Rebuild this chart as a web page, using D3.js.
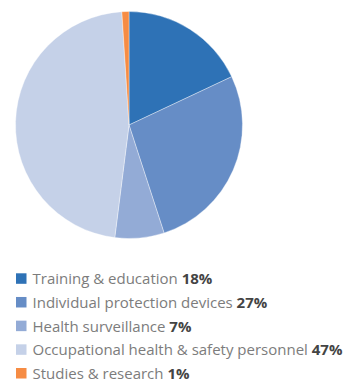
<!DOCTYPE html>
<html>
<head>
<meta charset="utf-8">
<script src="https://cdn.jsdelivr.net/npm/d3@7"></script>
<style>
  html, body { margin: 0; padding: 0; background: #fff; }
  svg { display: block; }
</style>
</head>
<body>
<svg id="chart" width="352" height="380"></svg>
<script>
// Safety spending breakdown
const categories = [
  "Training & education",
  "Individual protection devices",
  "Health surveillance",
  "Occupational health & safety personnel",
  "Studies & research"
];
const shares = [18, 27, 7, 47, 1];
const colors = ["#2e72b6", "#668dc6", "#93abd6", "#c5d1e8", "#f68c44"];

const svg = d3.select("#chart");
const cx = 129, cy = 125, radius = 113.5;

const pie = d3.pie().sort(null).value(d => d.v);
const arc = d3.arc().innerRadius(0).outerRadius(radius);
const data = categories.map((c, i) => ({ c, v: shares[i], color: colors[i] }));

svg.append("g")
  .attr("transform", `translate(${cx},${cy})`)
  .selectAll("path")
  .data(pie(data))
  .join("path")
  .attr("d", arc)
  .attr("fill", d => d.data.color)
  .attr("stroke", "#ffffff")
  .attr("stroke-width", 0.6)
  .attr("stroke-opacity", 0.6);

// Legend: one row per category, swatch + label + bold share
const legendY = d3.scalePoint().domain(categories).range([273.3, 368]);
const rows = svg.append("g")
  .selectAll("g")
  .data(data)
  .join("g")
  .attr("transform", d => `translate(0,${legendY(d.c)})`);

rows.append("rect")
  .attr("x", 16).attr("y", 0)
  .attr("width", 10.5).attr("height", 10.5)
  .attr("fill", d => d.color);

const txt = rows.append("text")
  .attr("x", 32.5).attr("y", 11)
  .attr("font-family", "'Open Sans', sans-serif")
  .attr("font-size", 15)
  .attr("fill", "#7c7c7c");
txt.append("tspan").text(d => d.c + " ");
txt.append("tspan")
  .attr("font-weight", "bold")
  .attr("fill", "#444444")
  .text(d => d.v + "%");
</script>
</body>
</html>
